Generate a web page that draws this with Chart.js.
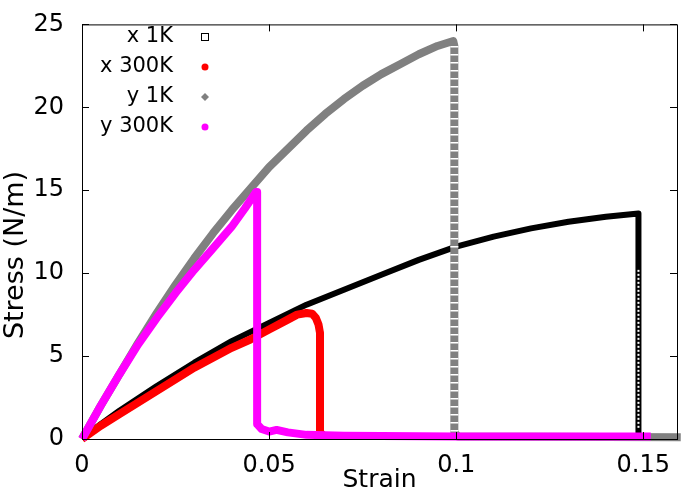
<!DOCTYPE html>
<html>
<head>
<meta charset="utf-8">
<script src="https://cdn.jsdelivr.net/npm/chart.js@4.4.1/dist/chart.umd.min.js"></script>
<style>
  body { margin: 0; background: #fff; }
</style>
</head>
<body>
<canvas id="stressChart" width="685" height="495"></canvas>
<script>
// values (strain, stress in N/m)
const x1kStrain = [0, 0.005, 0.01, 0.02, 0.03, 0.04, 0.05, 0.06, 0.07, 0.08, 0.09, 0.10, 0.11, 0.12, 0.13, 0.14, 0.1487, 0.1487, 0.1500];
const x1kStress = [0, 0.9, 1.7, 3.2, 4.6, 5.9, 7.0, 8.1, 9.0, 9.9, 10.8, 11.6, 12.2, 12.7, 13.1, 13.4, 13.6, 0.2, 0.05];

const x300kStrain = [0, 0.005, 0.01, 0.02, 0.03, 0.04, 0.045, 0.05, 0.055, 0.0575, 0.060, 0.0615, 0.0625, 0.0632, 0.0636, 0.0636, 0.0645];
const x300kStress = [0, 0.8, 1.5, 2.9, 4.3, 5.5, 6.0, 6.6, 7.2, 7.5, 7.6, 7.55, 7.3, 6.9, 6.4, 0.4, 0.2];

const y1kStrain = [0, 0.005, 0.01, 0.015, 0.02, 0.025, 0.03, 0.035, 0.04, 0.045, 0.05, 0.055, 0.06, 0.065, 0.07, 0.075, 0.08, 0.085, 0.09, 0.095, 0.0992, 0.0995, 0.0995, 0.1005, 0.16];
const y1kStress = [0, 2.0, 3.9, 5.8, 7.6, 9.3, 10.9, 12.4, 13.8, 15.1, 16.4, 17.5, 18.6, 19.6, 20.5, 21.3, 22.0, 22.6, 23.2, 23.7, 24.0, 23.7, 0.4, 0.15, 0.1];

const y300kStrain = [0, 0.005, 0.01, 0.015, 0.02, 0.025, 0.03, 0.035, 0.04, 0.0435, 0.0465, 0.0468, 0.0468, 0.048, 0.050, 0.052, 0.055, 0.060, 0.070, 0.100, 0.152];
const y300kStress = [0, 2.0, 3.9, 5.7, 7.3, 8.8, 10.2, 11.5, 12.8, 13.9, 14.9, 14.9, 0.9, 0.6, 0.45, 0.55, 0.4, 0.25, 0.2, 0.15, 0.15];

// stretches of the vertical drops where the markers stand apart
const y1kDropStrain = [0.0995, 0.0995];
const y1kDropStress = [23.7, 0.4];
const x1kDropStrain = [0.1487, 0.1487];
const x1kDropStress = [10.2, 0.6];

const seriesLabels = ['x 1K', 'x 300K', 'y 1K', 'y 300K'];
const seriesColors = ['#000000', '#ff0000', '#808080', '#ff00ff'];

const xTicks = [0, 0.05, 0.1, 0.15];
const yTicks = [0, 5, 10, 15, 20, 25];

function toPoints(xs, ys) {
    return xs.map((x, i) => ({ x: x, y: ys[i] }));
}

function makeSet(i, xs, ys, width, order) {
    return {
        label: seriesLabels[i],
        data: toPoints(xs, ys),
        borderColor: seriesColors[i],
        backgroundColor: seriesColors[i],
        borderWidth: width,
        pointRadius: 0,
        fill: false,
        borderJoinStyle: 'round',
        order: order,
        clip: false
    };
}

// white dashes laid over a drop so the stacked markers show through
function gapSet(xs, ys, width, dash, order) {
    return {
        label: '',
        data: toPoints(xs, ys),
        borderColor: '#ffffff',
        borderWidth: width,
        borderDash: dash,
        pointRadius: 0,
        fill: false,
        order: order
    };
}

// frame with inward ticks on all four sides
const framePlugin = {
    id: 'frame',
    afterDraw(chart) {
        const { ctx, chartArea: a, scales } = chart;
        ctx.save();
        ctx.strokeStyle = '#000';
        ctx.lineWidth = 1;
        ctx.strokeRect(a.left + 0.5, a.top + 0.5, a.right - a.left, a.bottom - a.top);
        ctx.beginPath();
        xTicks.forEach(v => {
            const px = Math.round(scales.x.getPixelForValue(v)) + 0.5;
            ctx.moveTo(px, a.bottom); ctx.lineTo(px, a.bottom - 7);
            ctx.moveTo(px, a.top); ctx.lineTo(px, a.top + 7);
        });
        yTicks.forEach(v => {
            const py = Math.round(scales.y.getPixelForValue(v)) + 0.5;
            ctx.moveTo(a.left, py); ctx.lineTo(a.left + 7, py);
            ctx.moveTo(a.right, py); ctx.lineTo(a.right - 7, py);
        });
        ctx.stroke();

        // y axis title
        ctx.fillStyle = '#000';
        ctx.font = '27px "DejaVu Sans"';
        ctx.textAlign = 'center';
        ctx.textBaseline = 'middle';
        ctx.translate(16, 255);
        ctx.rotate(-Math.PI / 2);
        ctx.fillText('Stress (N/m)', 0, 0);
        ctx.restore();
    }
};

// gnuplot style key: text right aligned, marker after it
const keyPlugin = {
    id: 'key',
    afterDraw(chart) {
        const ctx = chart.ctx;
        const rows = [37, 67, 97, 127];
        ctx.save();
        ctx.font = '21px "DejaVu Sans"';
        ctx.textAlign = 'right';
        ctx.textBaseline = 'middle';
        seriesLabels.forEach((label, i) => {
            const y = rows[i];
            ctx.fillStyle = '#000';
            ctx.fillText(label, 173, y);
            ctx.fillStyle = seriesColors[i];
            ctx.strokeStyle = seriesColors[i];
            const mx = 205;
            if (i === 0) {
                ctx.lineWidth = 1;
                ctx.strokeRect(mx - 3.5, y - 3.5, 7, 7);
            } else if (i === 2) {
                ctx.beginPath();
                ctx.moveTo(mx, y - 4); ctx.lineTo(mx + 4, y); ctx.lineTo(mx, y + 4); ctx.lineTo(mx - 4, y);
                ctx.closePath();
                ctx.fill();
            } else {
                ctx.beginPath();
                ctx.arc(mx, y, 3.5, 0, Math.PI * 2);
                ctx.fill();
            }
        });
        ctx.restore();
    }
};

const ctx = document.getElementById('stressChart').getContext('2d');
const stressChart = new Chart(ctx, {
    type: 'line',
    data: {
        datasets: [
            makeSet(0, x1kStrain, x1kStress, 6, 6),
            gapSet(x1kDropStrain, x1kDropStress, 2, [2, 2], 5),
            makeSet(1, x300kStrain, x300kStress, 8, 4),
            makeSet(2, y1kStrain, y1kStress, 8, 3),
            gapSet(y1kDropStrain, y1kDropStress, 8, [1.5, 6.5], 2),
            makeSet(3, y300kStrain, y300kStress, 8, 1)
        ]
    },
    options: {
        responsive: false,
        animation: false,
        events: [],
        layout: { padding: { top: 14, right: 8, left: 0, bottom: 0 } },
        plugins: { legend: { display: false }, tooltip: { enabled: false } },
        scales: {
            x: {
                type: 'linear',
                min: 0,
                max: 0.159,
                grid: { display: false },
                border: { display: false },
                afterBuildTicks: s => { s.ticks = xTicks.map(v => ({ value: v })); },
                afterFit: s => { s.height = 56; },
                ticks: {
                    padding: 4,
                    color: '#000',
                    font: { family: 'DejaVu Sans', size: 24 },
                    callback: v => String(v)
                },
                title: {
                    display: true,
                    text: 'Strain',
                    color: '#000',
                    font: { family: 'DejaVu Sans', size: 25, lineHeight: 1.2 },
                    padding: 0
                }
            },
            y: {
                type: 'linear',
                min: 0,
                max: 25,
                grid: { display: false },
                border: { display: false },
                afterBuildTicks: s => { s.ticks = yTicks.map(v => ({ value: v })); },
                afterFit: s => { s.width = 82; },
                ticks: {
                    padding: 10,
                    color: '#000',
                    font: { family: 'DejaVu Sans', size: 24 },
                    callback: v => String(v)
                }
            }
        }
    },
    plugins: [framePlugin, keyPlugin]
});
</script>
</body>
</html>
